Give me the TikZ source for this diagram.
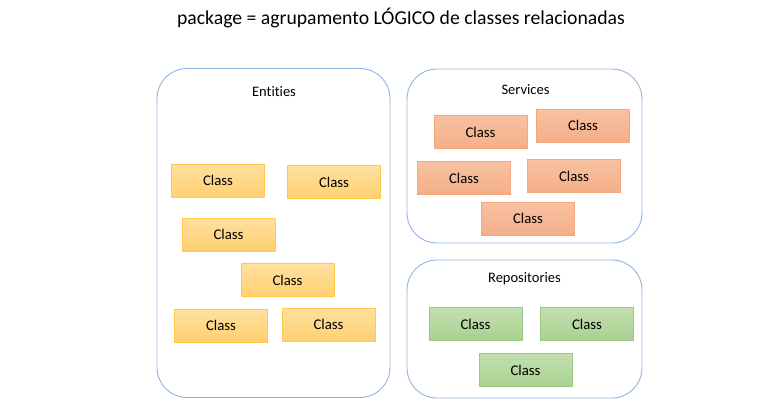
\documentclass[tikz,border=0pt]{standalone}
\usepackage{fontspec}
\setmainfont{Carlito}[Ligatures=NoCommon]
\usepackage{tikz}

\definecolor{pkgline}{HTML}{8DB4E2}
\definecolor{entline}{HTML}{FFC94A}
\definecolor{enttop}{HTML}{FFE0A0}
\definecolor{entbot}{HTML}{FFD070}
\definecolor{srvline}{HTML}{F4A77A}
\definecolor{srvtop}{HTML}{F8C2A2}
\definecolor{srvbot}{HTML}{F4AE88}
\definecolor{repline}{HTML}{9CC884}
\definecolor{reptop}{HTML}{C3DFB0}
\definecolor{repbot}{HTML}{A8D190}

\tikzset{
  pkg/.style={draw=pkgline, line width=0.9pt, rounded corners=30pt, inner sep=0pt},
  lbl/.style={font=\fontsize{14.5}{16}\selectfont},
  cls/.style={minimum width=93pt, minimum height=33pt, inner sep=0pt, line width=0.8pt,
    font=\fontsize{14.8}{16}\selectfont},
  ent/.style={cls, draw=entline, top color=enttop, bottom color=entbot},
  srv/.style={cls, draw=srvline, top color=srvtop, bottom color=srvbot},
  rep/.style={cls, draw=repline, top color=reptop, bottom color=repbot}
}

\begin{document}
\begin{tikzpicture}[x=1pt, y=-1pt]
	\useasboundingbox (0,0) rectangle (770,415);
	\node[font=\fontsize{19.7}{22}\selectfont] (title) at (401,18) {package = agrupamento LÓGICO de classes relacionadas};
	% entities
	\node[pkg, minimum width=233pt, minimum height=329pt] (entities) at (273.5,233) {};
	\node[lbl] (entlbl) at (274,92) {Entities};
	\node[ent] (ent1) at (218,180.5) {Class};
	\node[ent] (ent2) at (334,182) {Class};
	\node[ent] (ent3) at (228.5,234.5) {Class};
	\node[ent] (ent4) at (287.5,280) {Class};
	\node[ent] (ent5) at (221,325.5) {Class};
	\node[ent] (ent6) at (328.5,324.5) {Class};
	% services
	\node[pkg, minimum width=235pt, minimum height=174pt] (services) at (524.5,156) {};
	\node[lbl] (srvlbl) at (525.5,90) {Services};
	\node[srv] (srv1) at (480.5,132) {Class};
	\node[srv] (srv2) at (583,125.5) {Class};
	\node[srv] (srv3) at (464,178) {Class};
	\node[srv] (srv4) at (574,176) {Class};
	\node[srv] (srv5) at (528,218.5) {Class};
	% repositories
	\node[pkg, minimum width=235pt, minimum height=138pt] (repositories) at (524.5,329) {};
	\node[lbl] (replbl) at (524.5,279) {Repositories};
	\node[rep] (rep1) at (475.5,324) {Class};
	\node[rep] (rep2) at (587,324) {Class};
	\node[rep] (rep3) at (525.5,370) {Class};
\end{tikzpicture}
\end{document}
